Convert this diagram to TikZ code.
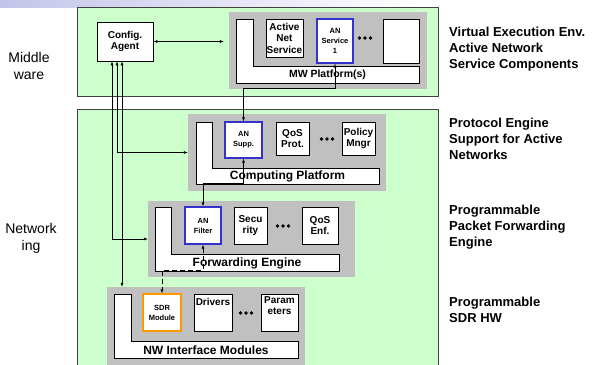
\documentclass[tikz,border=0pt]{standalone}
\usepackage{fontspec}
\setmainfont{Liberation Sans}
\usetikzlibrary{arrows.meta}
\definecolor{zonegreen}{RGB}{204,255,204}
\definecolor{framegray}{RGB}{192,192,192}
\definecolor{anblue}{RGB}{51,51,204}
\definecolor{sdrorange}{RGB}{255,153,0}
\definecolor{barlav}{RGB}{196,196,234}
\newcommand{\fsz}[2]{\fontsize{#1}{#2}\selectfont}
\tikzset{
  zone/.style={draw=black!75, line width=0.8pt, fill=zonegreen},
  frame/.style={fill=framegray, inner sep=0pt},
  plat/.style={draw, fill=white, line width=0.6pt},
  comp/.style={draw, fill=white, line width=0.6pt, inner sep=0pt, align=center,
    font=\bfseries\fsz{10}{11.5}},
  ancomp/.style={comp, draw=anblue, line width=1.2pt, font=\bfseries\fsz{7.5}{10}},
  platlabel/.style={font=\bfseries\fsz{12}{14}},
  sidelabel/.style={font=\fsz{14}{17}, align=center},
  rolelabel/.style={font=\bfseries\fsz{13}{16}, align=left, anchor=north west, inner sep=0pt},
  link/.style={line width=0.6pt, -{Latex[length=4pt,width=3pt]}},
  dlink/.style={line width=0.6pt, {Latex[length=4pt,width=3pt]}-{Latex[length=4pt,width=3pt]}}
}
\begin{document}
\begin{tikzpicture}[x=1pt,y=-1pt]
    \useasboundingbox (0,0) rectangle (596,364);
    \shade[left color=barlav, right color=white] (0,0) rectangle (420,7);
    % layers
    \draw[zone] (77,7) rectangle (438,96);
    \draw[zone] (77,109) rectangle (438,370);
    \node[sidelabel] (mwlab) at (29,66) {Middle\\ware};
    \node[sidelabel] (nwlab) at (31,238) {Network\\ing};
    % middleware platform
    \node[frame, minimum width=198pt, minimum height=77pt] (mwp) at (328,50.5) {};
    \filldraw[plat] (236,19) -- (253,19) -- (253,66) -- (419,66) -- (419,83) -- (236,83) -- cycle;
    \node[platlabel, font=\bfseries\fsz{10.5}{12}] (mwtext) at (327.5,75) {MW Platform(s)};
    \node[comp, minimum width=37pt, minimum height=38pt] (actnet) at (284.5,38) {Active\\Net\\Service};
    \node[ancomp, minimum width=36pt, minimum height=44pt] (ansvc) at (335,41) {AN\\Service\\1};
    \node[comp, minimum width=36pt, minimum height=44pt] (spare) at (401,41) {};
    \node[comp, minimum width=56pt, minimum height=39pt] (agent) at (125,41.5) {Config.\\Agent};
    % computing platform
    \node[frame, minimum width=198pt, minimum height=77pt] (cpu) at (287,152.5) {};
    \filldraw[plat] (196,122) -- (212,122) -- (212,168) -- (379,168) -- (379,184) -- (196,184) -- cycle;
    \node[platlabel] (cputext) at (287.5,176.5) {Computing Platform};
    \node[ancomp, minimum width=37pt, minimum height=36pt] (ansupp) at (243.5,140) {AN\\Supp.};
    \node[comp, minimum width=33pt, minimum height=33pt] (qosprot) at (292.5,138.5) {QoS\\Prot.};
    \node[comp, minimum width=33pt, minimum height=33pt] (policy) at (358.5,138.5) {Policy\\Mngr};
    % forwarding engine
    \node[frame, minimum width=207pt, minimum height=76pt] (fwd) at (251.5,239) {};
    \filldraw[plat] (155,207) -- (171,207) -- (171,254) -- (339,254) -- (339,271) -- (155,271) -- cycle;
    \node[platlabel] (fwdtext) at (247,263) {Forwarding Engine};
    \node[ancomp, minimum width=36pt, minimum height=37pt] (anfilt) at (203,225.5) {AN\\Filter};
    \node[comp, minimum width=33pt, minimum height=37pt] (secu) at (250.5,225.5) {Secu\\rity};
    \node[comp, minimum width=36pt, minimum height=37pt] (qosenf) at (320,225.5) {QoS\\Enf.};
    % nw interface modules
    \node[frame, minimum width=198pt, minimum height=80pt] (nwi) at (206,327) {};
    \filldraw[plat] (114,294) -- (131,294) -- (131,341) -- (298,341) -- (298,358) -- (114,358) -- cycle;
    \node[platlabel] (nwitext) at (206,350) {NW Interface Modules};
    \node[ancomp, draw=sdrorange, minimum width=38pt, minimum height=37pt] (sdr) at (162,312.5) {SDR\\Module};
    \node[comp, minimum width=38pt, minimum height=37pt] (drivers) at (213,312.5) {Drivers\\[9pt]};
    \node[comp, minimum width=37pt, minimum height=37pt] (params) at (279.5,312.5) {Param\\eters\\[2pt]};
    % dots
    \foreach \px/\py in {365/38, 327/139, 283/226, 246/313}
      \foreach \dx in {-5.5,0,5.5}
        \fill (\px+\dx,\py) circle (1.9pt);
    % connections
    \draw[dlink] (agent.east) -- ([xshift=-5pt]agent.east -| mwp.west);
    \draw[dlink] (ansvc.south) -- ++(0,25) -| (ansupp.north);
    \draw[dlink] (ansupp.south) -- ++(0,25) -| (anfilt.north);
    \draw[dlink, dashed, dash pattern=on 5pt off 3pt] (anfilt.south) -- ++(0,26) -| (sdr.north);
    \draw[dlink] ([xshift=-8pt]agent.south) |- (cpu.west);
    \draw[dlink] ([xshift=-13pt]agent.south) |- (fwd.west);
    \draw[dlink] ([xshift=-3pt]agent.south) -- ([xshift=-3pt]agent.south |- nwi.north);
    % roles
    \node[rolelabel] (r1) at (449,27) {Virtual Execution Env.\\Active Network\\Service Components};
    \node[rolelabel] (r2) at (449,118) {Protocol Engine\\Support for Active\\Networks};
    \node[rolelabel] (r3) at (449,205) {Programmable\\Packet Forwarding\\Engine};
    \node[rolelabel] (r4) at (449,297) {Programmable\\SDR HW};
\end{tikzpicture}
\end{document}
